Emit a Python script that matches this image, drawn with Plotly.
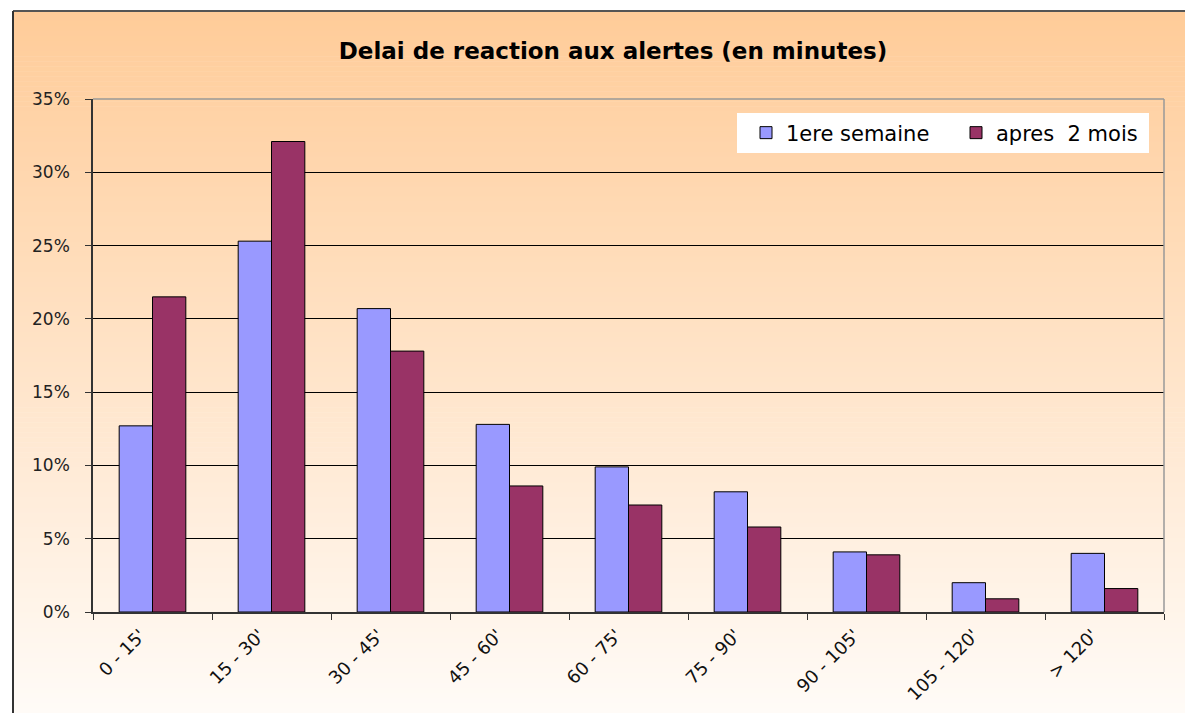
import plotly.graph_objects as go

# the page body adds an 8px margin, so the figure is drawn 8px smaller
OFF = 8
W, H = 1193 - OFF, 713 - OFF
# plot area in screen pixels: x 93..1164, y 99..612
L, R, T, B = 93 - OFF, 1193 - 1164, 99 - OFF, 713 - 612

categories = ["0 - 15'", "15 - 30'", "30 - 45'", "45 - 60'", "60 - 75'",
              "75 - 90'", "90 - 105'", "105 - 120'", "> 120'"]
first_week = [12.7, 25.3, 20.7, 12.8, 9.9, 8.2, 4.1, 2.0, 4.0]
after_2_months = [21.5, 32.1, 17.8, 8.6, 7.3, 5.8, 3.9, 0.9, 1.6]

FONT = "DejaVu Sans, Verdana, sans-serif"
pw, ph = W - L - R, H - T - B


def px_x(sx):
    # screen x -> paper fraction
    return (sx - OFF - L) / pw


def px_y(sy):
    # screen y -> paper fraction
    return (H - B - (sy - OFF)) / ph


# background gradient of the chart area (orange on top, near white at bottom)
top_rgb, bot_rgb = (255, 204, 153), (255, 251, 247)
shapes = []
n = 140
y_start, y_end = 11, 713
for i in range(n):
    f = i / (n - 1)
    c = tuple(round(a + (b - a) * f) for a, b in zip(top_rgb, bot_rgb))
    y0 = y_start + (y_end - y_start) * i / n
    y1 = y_start + (y_end - y_start) * (i + 1) / n + 0.6
    shapes.append(dict(type="rect", xref="paper", yref="paper", layer="below",
                       x0=px_x(13), x1=px_x(1195), y0=px_y(y1), y1=px_y(y0),
                       fillcolor="rgb(%d,%d,%d)" % c, line_width=0))

# outer frame (top and left)
shapes.append(dict(type="line", xref="paper", yref="paper",
                   x0=px_x(13), x1=px_x(1195), y0=px_y(11), y1=px_y(11),
                   line=dict(color="#555555", width=2)))
shapes.append(dict(type="line", xref="paper", yref="paper",
                   x0=px_x(13), x1=px_x(13), y0=px_y(11), y1=px_y(715),
                   line=dict(color="#333333", width=2)))
# plot area border, top and right in grey
shapes.append(dict(type="line", xref="paper", yref="paper", layer="above",
                   x0=0, x1=1, y0=1, y1=1, line=dict(color="#999999", width=1.5)))
shapes.append(dict(type="line", xref="paper", yref="paper", layer="above",
                   x0=1, x1=1, y0=0, y1=1, line=dict(color="#999999", width=1.5)))
# white legend box
shapes.append(dict(type="rect", xref="paper", yref="paper", layer="above",
                   x0=px_x(737), x1=px_x(1149), y0=px_y(153), y1=px_y(113),
                   fillcolor="white", line_width=0))

fig = go.Figure()
fig.add_trace(go.Bar(x=categories, y=first_week, name="1ere semaine",
                     marker=dict(color="#9999FF", line=dict(color="#000000", width=1))))
fig.add_trace(go.Bar(x=categories, y=after_2_months, name="apres  2 mois",
                     marker=dict(color="#993366", line=dict(color="#000000", width=1))))

fig.update_layout(
    width=W, height=H,
    margin=dict(l=L, r=R, t=T, b=B, autoexpand=False),
    paper_bgcolor="white", plot_bgcolor="rgba(0,0,0,0)",
    font=dict(family=FONT, size=16, color="#222222"),
    title=dict(text="<b>Delai de reaction aux alertes (en minutes)</b>",
               x=px_x(613), xref="paper", xanchor="center",
               y=1 - (51 - OFF) / H, yref="container", yanchor="middle",
               font=dict(family=FONT, size=23, color="#000000")),
    barmode="group", bargap=0.44, bargroupgap=0,
    showlegend=True,
    legend=dict(orientation="h", x=px_x(746), y=px_y(133),
                xanchor="left", yanchor="middle",
                bgcolor="rgba(0,0,0,0)", borderwidth=0,
                font=dict(family=FONT, size=21, color="#000000"),
                itemwidth=30, entrywidth=165, traceorder="normal"),
    shapes=shapes,
    xaxis=dict(type="category", tickson="boundaries", ticks="outside",
               ticklen=6, tickcolor="#333333", tickangle=-45,
               ticklabelstandoff=4, ticklabelshift=-12,
               showline=True, linecolor="#333333", linewidth=1.5,
               showgrid=False, tickfont=dict(size=18, color="#111111")),
    yaxis=dict(range=[0, 35], dtick=5, ticksuffix="%", ticks="outside",
               ticklen=6, tickcolor="#333333", ticklabelstandoff=12,
               showline=True, linecolor="#333333", linewidth=1.5,
               showgrid=True, gridcolor="#000000", gridwidth=1,
               zeroline=False, tickfont=dict(size=17, color="#222222")),
)

fig.write_html("out.html")
